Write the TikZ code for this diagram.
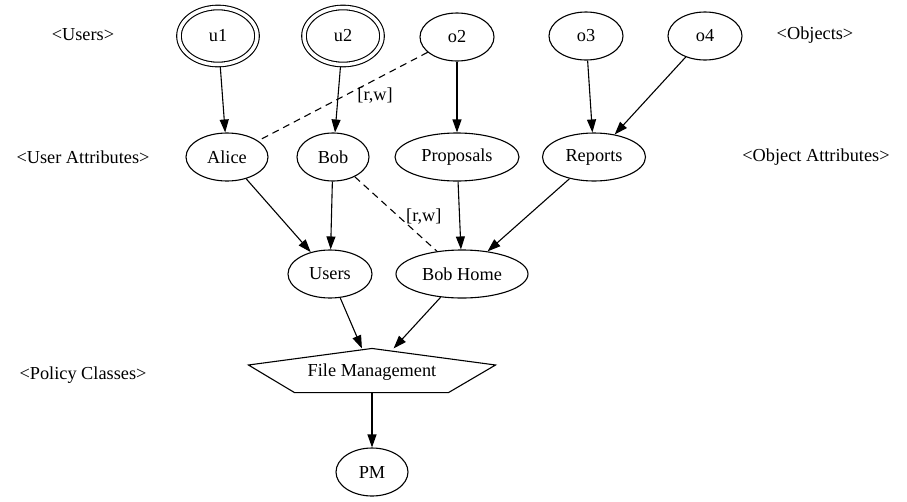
\documentclass[tikz,border=0pt]{standalone}
\usepackage{fontspec}
\setmainfont{Liberation Serif}
\usetikzlibrary{shapes,arrows.meta,positioning,calc}

\begin{document}
\begin{tikzpicture}[x=1pt,y=-1pt,line width=1.1pt,
    >={Triangle[length=13pt,width=9pt]},
    every node/.style={font=\fontsize{18.3}{22}\selectfont},
    attr/.style={draw,ellipse,inner sep=0pt,minimum height=48pt},
    usr/.style={draw,ellipse,double,double distance=3.5pt,inner sep=0pt,
        minimum width=78pt,minimum height=57pt,outer sep=2.5pt},
    assoc/.style={dash pattern=on 7pt off 5pt}]
\useasboundingbox (0,0) rectangle (907,501);

% Layer names
\node (lusers) at (83,35) {<Users>};
\node (lobjects) at (815,35) {<Objects>};
\node (luattr) at (83,157) {<User Attributes>};
\node (loattr) at (816,157) {<Object Attributes>};
\node (lpc) at (83,375) {<Policy Classes>};

% Users and objects
\node[usr] (u1) at (218,36) {u1};
\node[usr] (u2) at (343,36) {u2};
\node[attr,minimum width=74pt] (o2) at (457,37) {o2};
\node[attr,minimum width=74pt] (o3) at (586,36) {o3};
\node[attr,minimum width=74pt] (o4) at (705,36) {o4};

% Attributes
\node[attr,minimum width=82pt] (alice) at (227,157) {Alice};
\node[attr,minimum width=72pt] (bob) at (333,157) {Bob};
\node[attr,minimum width=124pt] (proposals) at (457,157) {Proposals};
\node[attr,minimum width=103pt] (reports) at (594,157) {Reports};
\node[attr,minimum width=84pt] (users) at (330,274) {Users};
\node[attr,minimum width=132pt] (bobhome) at (462,274) {Bob Home};

% Policy class
\node[minimum width=246pt,minimum height=46pt,inner sep=0pt] (fm) at (372,372) {File Management};
\draw (fm.north) -- ($(fm.east)+(0,-7)$) -- ($(fm.south east)+(-47,-3)$)
    -- ($(fm.south west)+(46,-3)$) -- ($(fm.west)+(0,-7)$) -- cycle;
\node[attr,minimum width=72pt] (pm) at (372,472) {PM};

% Assignments
\draw[->] (u1) -- (alice);
\draw[->] (u2) -- (bob);
\draw[->] (o2) -- (proposals);
\draw[->] (o3) -- (reports);
\draw[->] (o4) -- (reports);
\draw[->] (alice) -- (users);
\draw[->] (bob) -- (users);
\draw[->] (proposals) -- (bobhome);
\draw[->] (reports) -- (bobhome);
\draw[->] (users) -- (fm);
\draw[->] (bobhome) -- (fm);
\draw[->] (fm.south) ++(0,-3) -- (pm);

% Associations
\draw[assoc] (o2) -- node[pos=0.31,below=4pt] {[r,w]} (alice);
\draw[assoc] (bob) -- node[pos=0.53,right=4pt] {[r,w]} (bobhome);
\end{tikzpicture}
\end{document}
